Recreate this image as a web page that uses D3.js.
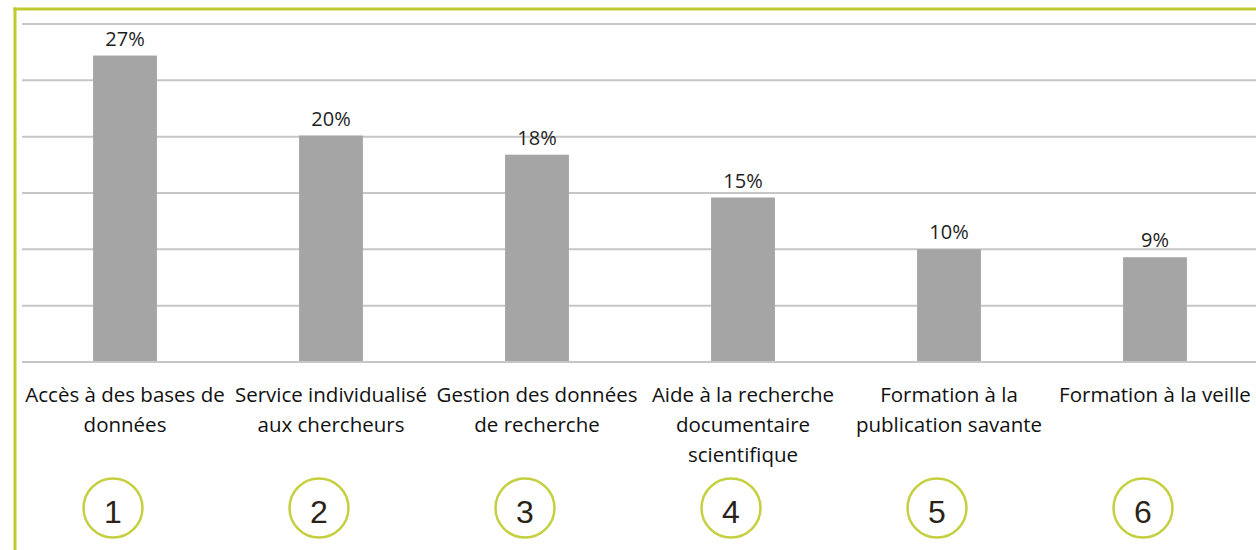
<!DOCTYPE html>
<html>
<head>
<meta charset="utf-8">
<script src="https://cdn.jsdelivr.net/npm/d3@7"></script>
<style>
  body { margin: 0; background: #fff; }
  svg { display: block; }
</style>
</head>
<body>
<div id="chart"></div>
<script>
// data
const categories = [
    ["Accès à des bases de", "données"],
    ["Service individualisé", "aux chercheurs"],
    ["Gestion des données", "de recherche"],
    ["Aide à la recherche", "documentaire", "scientifique"],
    ["Formation à la", "publication savante"],
    ["Formation à la veille"]
];
const values = [27.2, 20.1, 18.4, 14.6, 10.0, 9.3];
const numbers = ["1", "2", "3", "4", "5", "6"];
const yTicks = [0, 5, 10, 15, 20, 25, 30];

const width = 1256, height = 550;
const green = "#bfcb2f";
const font = "'Open Sans', sans-serif";

const svg = d3.select("#chart").append("svg")
    .attr("width", width)
    .attr("height", height);

const x = d3.scaleBand()
    .domain(d3.range(categories.length))
    .range([22, 22 + 6 * 206])
    .paddingInner(0.69)
    .paddingOuter(0.345);

const y = d3.scaleLinear()
    .domain([0, 30])
    .range([362, 24]);

// frame
svg.append("line")
    .attr("x1", 15).attr("x2", 15).attr("y1", 7.5).attr("y2", height)
    .attr("stroke", green).attr("stroke-width", 3);
svg.append("line")
    .attr("x1", 13.5).attr("x2", width).attr("y1", 9).attr("y2", 9)
    .attr("stroke", green).attr("stroke-width", 3);

// gridlines
svg.append("g")
    .selectAll("line")
    .data(yTicks)
    .join("line")
    .attr("x1", 22).attr("x2", width)
    .attr("y1", d => y(d)).attr("y2", d => y(d))
    .attr("stroke", "#c6c6c6")
    .attr("stroke-width", 2);

// bars
svg.append("g")
    .selectAll("rect")
    .data(values)
    .join("rect")
    .attr("x", (d, i) => x(i))
    .attr("width", x.bandwidth())
    .attr("y", d => y(d))
    .attr("height", d => y(0) - y(d) - 1)
    .attr("fill", "#a5a5a5");

// value labels
svg.append("g")
    .selectAll("text")
    .data(values)
    .join("text")
    .attr("x", (d, i) => x(i) + x.bandwidth() / 2)
    .attr("y", d => y(d) - 10)
    .attr("text-anchor", "middle")
    .attr("font-family", font)
    .attr("font-size", 20)
    .attr("fill", "#1e1e1e")
    .text(d => Math.round(d) + "%");

// category labels
const lab = svg.append("g")
    .selectAll("text")
    .data(categories)
    .join("text")
    .attr("x", (d, i) => x(i) + x.bandwidth() / 2)
    .attr("y", 402)
    .attr("text-anchor", "middle")
    .attr("font-family", font)
    .attr("font-size", 20.5)
    .attr("fill", "#111");

lab.selectAll("tspan")
    .data(d => d)
    .join("tspan")
    .attr("x", function() { return d3.select(this.parentNode).attr("x"); })
    .attr("dy", (d, i) => i ? 30 : 0)
    .text(d => d);

// numbered circles
const marks = svg.append("g")
    .selectAll("g")
    .data(numbers)
    .join("g")
    .attr("transform", (d, i) => `translate(${x(i) + x.bandwidth() / 2 - 12},508)`);

marks.append("circle")
    .attr("r", 29.5)
    .attr("fill", "none")
    .attr("stroke", "#c5d040")
    .attr("stroke-width", 2.5);

marks.append("text")
    .attr("y", 15)
    .attr("text-anchor", "middle")
    .attr("font-family", "'Liberation Sans', Arial, sans-serif")
    .attr("font-size", 32)
    .attr("fill", "#2a2418")
    .text(d => d);
</script>
</body>
</html>
